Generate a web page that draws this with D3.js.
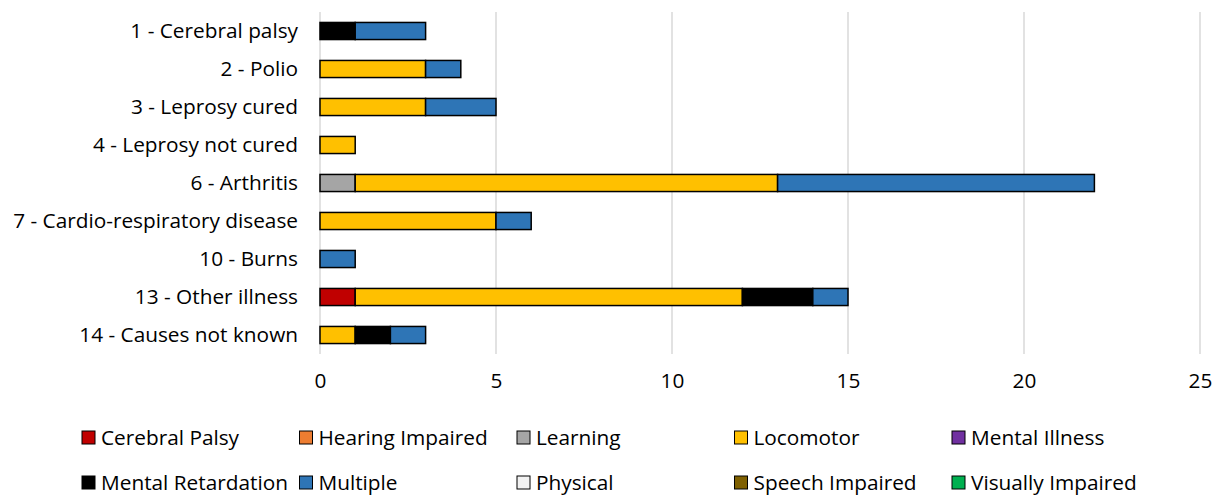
<!DOCTYPE html>
<html>
<head>
<meta charset="utf-8">
<script src="https://cdn.jsdelivr.net/npm/d3@7"></script>
<style>
  body { margin: 0; background: #fff; }
  text { font-family: "Open Sans", Lato, sans-serif; fill: #000; }
</style>
</head>
<body>
<svg width="1225" height="496"></svg>
<script>
// categories (top to bottom)
var causes = ["1 - Cerebral palsy", "2 - Polio", "3 - Leprosy cured", "4 - Leprosy not cured",
  "6 - Arthritis", "7 - Cardio-respiratory disease", "10 - Burns", "13 - Other illness", "14 - Causes not known"];

// series, in stacking order
var seriesNames = ["Cerebral Palsy", "Hearing Impaired", "Learning", "Locomotor", "Mental Illness",
  "Mental Retardation", "Multiple", "Physical", "Speech Impaired", "Visually Impaired"];
var seriesColours = ["#c00000", "#ed7d31", "#a5a5a5", "#ffc000", "#7030a0",
  "#000000", "#2e75b6", "#f2f2f2", "#7f6000", "#00b050"];

// values per series, one per cause
var cerebralPalsy     = [0, 0, 0, 0, 0, 0, 0, 1, 0];
var hearingImpaired   = [0, 0, 0, 0, 0, 0, 0, 0, 0];
var learning          = [0, 0, 0, 0, 1, 0, 0, 0, 0];
var locomotor         = [0, 3, 3, 1, 12, 5, 0, 11, 1];
var mentalIllness     = [0, 0, 0, 0, 0, 0, 0, 0, 0];
var mentalRetardation = [1, 0, 0, 0, 0, 0, 0, 2, 1];
var multiple          = [2, 1, 2, 0, 9, 1, 1, 1, 1];
var physical          = [0, 0, 0, 0, 0, 0, 0, 0, 0];
var speechImpaired    = [0, 0, 0, 0, 0, 0, 0, 0, 0];
var visuallyImpaired  = [0, 0, 0, 0, 0, 0, 0, 0, 0];

var xTicks = [0, 5, 10, 15, 20, 25];

var allValues = [cerebralPalsy, hearingImpaired, learning, locomotor, mentalIllness,
  mentalRetardation, multiple, physical, speechImpaired, visuallyImpaired];

// build table rows for d3.stack
var table = causes.map(function(c, i) {
  var row = {cause: c};
  seriesNames.forEach(function(s, j) { row[s] = allValues[j][i]; });
  return row;
});

var svg = d3.select("svg"),
    margin = {top: 12, right: 25, bottom: 142, left: 320},
    width = +svg.attr("width") - margin.left - margin.right,
    height = +svg.attr("height") - margin.top - margin.bottom;

var fontSize = "20.8px";

var x = d3.scaleLinear().domain([0, 25]).range([0, width]);
var y = d3.scaleBand().domain(causes).range([0, height]).paddingInner(0.55).paddingOuter(0.275);

var colour = d3.scaleOrdinal().domain(seriesNames).range(seriesColours);

var g = svg.append("g")
    .attr("transform", "translate(" + margin.left + "," + margin.top + ")");

// gridlines
g.selectAll(".grid")
  .data(xTicks)
  .enter().append("line")
    .attr("x1", function(d) { return x(d); })
    .attr("x2", function(d) { return x(d); })
    .attr("y1", 0)
    .attr("y2", height)
    .attr("stroke", "#d9d9d9")
    .attr("stroke-width", 1.5);

// x axis tick labels
var xAxis = g.append("g")
    .attr("transform", "translate(0," + height + ")")
    .call(d3.axisBottom(x).tickValues(xTicks).tickSize(0).tickPadding(19).tickFormat(d3.format("d")));
xAxis.select(".domain").remove();
xAxis.selectAll("text").style("font-size", fontSize).style("font-family", "'Open Sans', Lato, sans-serif");

// y axis labels
var yAxis = g.append("g")
    .call(d3.axisLeft(y).tickSize(0).tickPadding(22));
yAxis.select(".domain").remove();
yAxis.selectAll("text").style("font-size", fontSize).style("font-family", "'Open Sans', Lato, sans-serif");

// stacked bars
var stacked = d3.stack().keys(seriesNames)(table);

g.selectAll(".layer")
  .data(stacked)
  .enter().append("g")
    .attr("fill", function(d) { return colour(d.key); })
  .selectAll("rect")
  .data(function(d) { return d.filter(function(p) { return p[1] - p[0] > 0; }); })
  .enter().append("rect")
    .attr("x", function(d) { return x(d[0]); })
    .attr("y", function(d) { return y(d.data.cause); })
    .attr("width", function(d) { return x(d[1]) - x(d[0]); })
    .attr("height", y.bandwidth())
    .attr("stroke", "#000")
    .attr("stroke-width", 1.5);

// legend, 5 per row
var legend = svg.append("g");
var item = legend.selectAll(".item")
  .data(seriesNames)
  .enter().append("g")
    .attr("transform", function(d, i) {
      return "translate(" + (82 + (i % 5) * 217.5) + "," + (431 + Math.floor(i / 5) * 45) + ")";
    });
item.append("rect")
    .attr("width", 13).attr("height", 13)
    .attr("fill", function(d) { return colour(d); })
    .attr("stroke", "#000").attr("stroke-width", 1);
item.append("text")
    .attr("x", 19).attr("y", 6.5).attr("dy", "0.35em")
    .style("font-size", fontSize)
    .text(function(d) { return d; });
</script>
</body>
</html>
